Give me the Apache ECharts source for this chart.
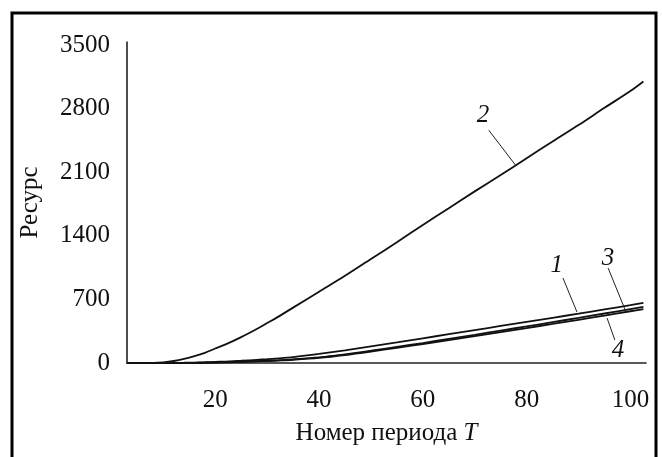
<!DOCTYPE html>
<html>
<head>
<meta charset="utf-8">
<script src="https://cdn.jsdelivr.net/npm/echarts@6/dist/echarts.min.js"></script>
<style>html,body{margin:0;padding:0;background:#fff}#c{width:662px;height:457px}</style>
</head>
<body>
<div id="c"></div>
<script>
// Period numbers T
const periods = [3, 5, 8, 10, 12, 14, 16, 18, 20, 22, 25, 28, 30, 32, 35, 40, 45, 50, 55, 60, 65, 70, 75, 80, 85, 90, 95, 100, 102.5];
// Resource curves
const curve1 = [0, 0, 0, 1, 2, 3, 5, 8, 12, 16, 25, 35, 42, 50, 65, 100, 140, 183, 227, 272, 317, 362, 408, 453, 498, 543, 590, 637, 662];
const curve2 = [0, 0, 2, 8, 22, 45, 75, 112, 160, 205, 285, 375, 440, 505, 610, 785, 960, 1145, 1330, 1520, 1705, 1890, 2070, 2255, 2440, 2620, 2810, 2995, 3100];
const curve3 = [0, 0, 0, 0, 1, 1, 2, 4, 6, 9, 14, 21, 25, 30, 40, 62, 95, 135, 177, 220, 265, 310, 357, 403, 450, 497, 545, 593, 617];
const curve4 = [0, 0, 0, 0, 0, 1, 2, 3, 5, 7, 12, 18, 22, 27, 36, 57, 88, 126, 167, 208, 251, 295, 340, 385, 430, 476, 522, 570, 594];
// Tick labels
const xTicks = [20, 40, 60, 80, 100];
const yTicks = [0, 700, 1400, 2100, 2800, 3500];
// Annotation: label name, label position [T, value], leader start, leader end
const notes = [
  { name: '1', at: [85.8, 1079], from: [87.0, 936], to: [89.7, 561] },
  { name: '2', at: [71.6, 2730], from: [72.7, 2564], to: [78.0, 2168] },
  { name: '3', at: [95.7, 1156], from: [95.7, 1046], to: [99.0, 583] },
  { name: '4', at: [97.6, 143], from: [95.5, 495], to: [97.0, 253] }
];

const FONT = '"Liberation Serif", "Times New Roman", serif';
const chart = echarts.init(document.getElementById('c'), null, { renderer: 'canvas' });

function pairs(vals) { return periods.map((t, i) => [t, vals[i]]); }
function mk(name, vals) {
  const n = notes.find(d => d.name === name);
  return {
    type: 'line', name: name, data: pairs(vals), smooth: 0.3, showSymbol: false,
    lineStyle: { color: '#111', width: 1.8 }, silent: true,
    markLine: {
      silent: true, symbol: 'none', label: { show: false },
      lineStyle: { color: '#222', width: 1, type: 'solid' },
      data: [[{ coord: n.from }, { coord: n.to }]]
    },
    markPoint: {
      silent: true, symbol: 'circle', symbolSize: 0,
      label: { show: true, position: 'inside', formatter: n.name, color: '#111', fontSize: 25, fontStyle: 'italic', fontFamily: FONT },
      data: [{ coord: n.at }]
    }
  };
}

chart.setOption({
  animation: false,
  backgroundColor: '#fff',
  grid: { left: 127, right: 16, top: 42, bottom: 94 },
  xAxis: {
    type: 'value', min: 3, max: 103,
    name: 'Номер периода {i|T}', nameLocation: 'middle', nameGap: 58,
    nameTextStyle: { fontSize: 25, color: '#111', fontFamily: FONT,
      rich: { i: { fontSize: 25, fontStyle: 'italic', color: '#111', fontFamily: FONT } } },
    axisLine: { show: true, lineStyle: { color: '#222', width: 1.6 } },
    axisTick: { show: false },
    splitLine: { show: false },
    axisLabel: { customValues: xTicks, formatter: v => String(v), fontSize: 25, color: '#111', fontFamily: FONT, margin: 25 }
  },
  yAxis: {
    type: 'value', min: 0, max: 3535,
    name: 'Ресурс', nameLocation: 'middle', nameGap: 84,
    nameTextStyle: { fontSize: 25, color: '#111', fontFamily: FONT },
    axisLine: { show: true, lineStyle: { color: '#222', width: 1.6 } },
    axisTick: { show: false },
    splitLine: { show: false },
    axisLabel: { customValues: yTicks, formatter: v => String(v), fontSize: 25, color: '#111', fontFamily: FONT, margin: 17 }
  },
  graphic: [{
    type: 'rect', z: -1, silent: true,
    shape: { x: 12, y: 13, width: 644, height: 470 },
    style: { fill: 'none', stroke: '#000', lineWidth: 3 }
  }],
  series: [mk('1', curve1), mk('2', curve2), mk('3', curve3), mk('4', curve4)]
});
</script>
</body>
</html>
